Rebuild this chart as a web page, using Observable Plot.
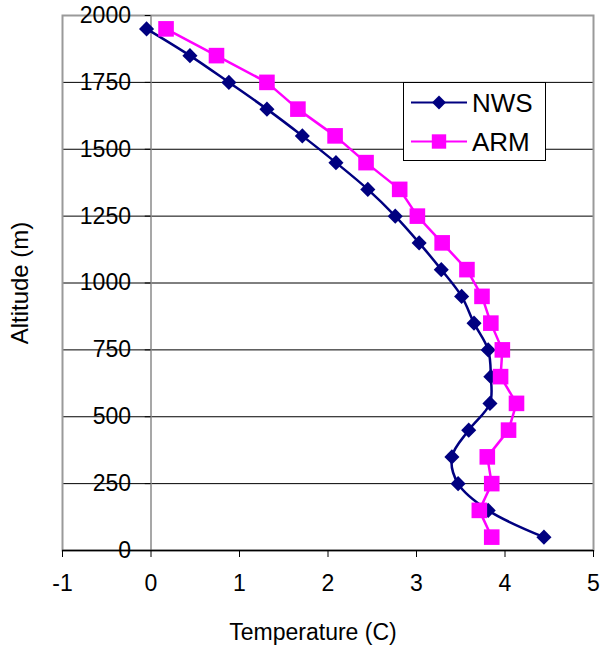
<!DOCTYPE html>
<html>
<head>
<meta charset="utf-8">
<script src="https://cdn.jsdelivr.net/npm/d3@7"></script>
<script src="https://cdn.jsdelivr.net/npm/@observablehq/plot@0.6"></script>
<style>
  body { margin: 0; background: #fff; }
  #wrap { position: relative; width: 602px; height: 652px; font-family: "Liberation Sans", Arial, sans-serif; }
</style>
</head>
<body>
<div id="wrap"></div>
<script>
const altitude = [50,150,250,350,450,550,650,750,850,950,1050,1150,1250,1350,1450,1550,1650,1750,1850,1950];
const nws = [4.44,3.81,3.47,3.40,3.59,3.83,3.84,3.81,3.65,3.51,3.28,3.03,2.76,2.45,2.09,1.71,1.31,0.88,0.44,-0.05];
const arm = [3.85,3.71,3.85,3.80,4.04,4.13,3.95,3.97,3.84,3.74,3.57,3.29,3.01,2.81,2.43,2.08,1.66,1.31,0.74,0.17];
const xTicks = [-1,0,1,2,3,4,5];
const yTicks = [0,250,500,750,1000,1250,1500,1750,2000];
const gridY = [250,500,750,1000,1250,1500,1750];
const seriesNames = ["NWS","ARM"];
const seriesColors = ["#000080","#ff00ff"];
const xLabel = "Temperature (C)";
const yLabel = "Altitude (m)";

const nwsData = altitude.map((a,i) => ({alt: a, t: nws[i]}));
const armData = altitude.map((a,i) => ({alt: a, t: arm[i]}));

const font = "Liberation Sans, Arial, sans-serif";

const chart = Plot.plot({
  width: 602,
  height: 652,
  marginLeft: 62,
  marginRight: 9,
  marginTop: 15,
  marginBottom: 102,
  style: {fontFamily: font, fontSize: "22px", background: "#fff", overflow: "visible"},
  x: {domain: [-1,5]},
  y: {domain: [0,2000], axis: null},
  marks: [
    Plot.ruleY(gridY, {stroke: "#000", strokeWidth: 1}),
    Plot.frame({stroke: "#9a9a9a", strokeWidth: 2}),
    Plot.ruleX([0], {stroke: "#8a8a8a", strokeWidth: 1.5}),
    Plot.ruleY(yTicks, {x1: -0.065, x2: 0, stroke: "#000", strokeWidth: 1}),
    Plot.text(yTicks, {x: () => 0, y: d => d, text: d => String(d), dx: -20, textAnchor: "end", fontSize: 23, fill: "#000", style: "letter-spacing:2px"}),
    Plot.ruleY([0], {stroke: "#000", strokeWidth: 1.5}),
    Plot.axisX({ticks: xTicks, tickSize: 7, tickPadding: 17, fontSize: 23, label: null, tickFormat: d => String(d), stroke: "#000"}),
    Plot.text([xLabel], {frameAnchor: "bottom", textAnchor: "middle", lineAnchor: "middle", dx: -15, dy: 82, fontSize: 23, fill: "#000", style: "letter-spacing:0.3px"}),
    Plot.text([yLabel], {frameAnchor: "left", textAnchor: "middle", lineAnchor: "middle", dx: -42, rotate: -90, fontSize: 24, fill: "#000", style: "letter-spacing:1.5px"}),
    Plot.line(nwsData, {x: "t", y: "alt", stroke: seriesColors[0], strokeWidth: 2.5, curve: "catmull-rom"}),
    Plot.dot(nwsData, {x: "t", y: "alt", symbol: "diamond2", r: 6.8, fill: seriesColors[0], stroke: "none"}),
    Plot.line(armData, {x: "t", y: "alt", stroke: seriesColors[1], strokeWidth: 2.5}),
    Plot.dot(armData, {x: "t", y: "alt", symbol: "square", r: 8.8, fill: seriesColors[1], stroke: "none"})
  ]
});

const wrap = document.getElementById("wrap");
wrap.appendChild(chart);

// legend
const lw = 142, lh = 78;
const leg = d3.create("svg").attr("width", lw+1).attr("height", lh+1)
  .style("position","absolute").style("left","403px").style("top","82px");
leg.append("rect").attr("x",0.5).attr("y",0.5).attr("width",lw).attr("height",lh)
  .attr("fill","#fff").attr("stroke","#000").attr("stroke-width",1);
const symbols = [d3.symbolDiamond2, d3.symbolSquare];
const rs = [6.8, 8.8];
seriesNames.forEach((name, i) => {
  const cy = i === 0 ? 20.5 : 59.5;
  const g = leg.append("g");
  g.append("line").attr("x1",8).attr("x2",64).attr("y1",cy).attr("y2",cy)
    .attr("stroke",seriesColors[i]).attr("stroke-width",2);
  g.append("path").attr("d", d3.symbol(symbols[i], Math.PI*rs[i]*rs[i]*0.85)())
    .attr("transform",`translate(36,${cy})`).attr("fill",seriesColors[i]);
  g.append("text").attr("x",69).attr("y",cy).attr("dy","0.36em")
    .attr("font-family",font).attr("font-size",26).attr("fill","#000").text(name);
});
wrap.appendChild(leg.node());
</script>
</body>
</html>
